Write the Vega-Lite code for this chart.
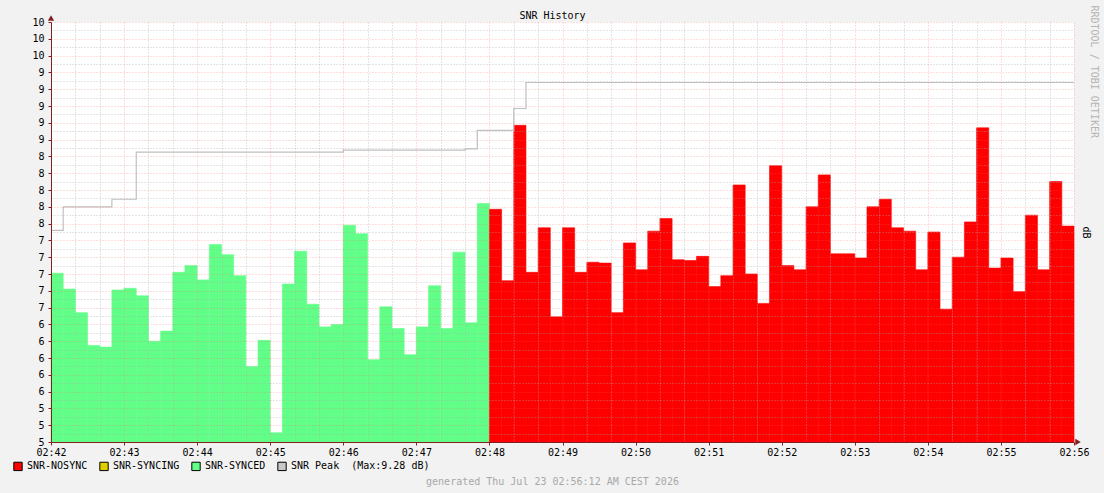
{
  "$schema": "https://vega.github.io/schema/vega-lite/v6.json",
  "width": 1023,
  "height": 420,
  "autosize": {"type": "none"},
  "padding": {"left": 51, "top": 22, "right": 30, "bottom": 51},
  "background": "#f2f2f2",
  "config": {"view": {"fill": "white", "stroke": null}, "font": "DejaVu Sans Mono"},
  "title": {"text": "SNR History", "anchor": "middle", "frame": "group", "dx": -10, "offset": -16, "font": "DejaVu Sans Mono", "fontSize": 10, "fontWeight": "normal", "color": "#000000"},
  "datasets": {
    "bars": [
      {"t": "2026-07-23T02:42:00Z", "e": "2026-07-23T02:42:10Z", "v": 7.01, "s": "SNR-SYNCED"},
      {"t": "2026-07-23T02:42:10Z", "e": "2026-07-23T02:42:20Z", "v": 6.82, "s": "SNR-SYNCED"},
      {"t": "2026-07-23T02:42:20Z", "e": "2026-07-23T02:42:30Z", "v": 6.54, "s": "SNR-SYNCED"},
      {"t": "2026-07-23T02:42:30Z", "e": "2026-07-23T02:42:40Z", "v": 6.15, "s": "SNR-SYNCED"},
      {"t": "2026-07-23T02:42:40Z", "e": "2026-07-23T02:42:50Z", "v": 6.13, "s": "SNR-SYNCED"},
      {"t": "2026-07-23T02:42:50Z", "e": "2026-07-23T02:43:00Z", "v": 6.81, "s": "SNR-SYNCED"},
      {"t": "2026-07-23T02:43:00Z", "e": "2026-07-23T02:43:10Z", "v": 6.83, "s": "SNR-SYNCED"},
      {"t": "2026-07-23T02:43:10Z", "e": "2026-07-23T02:43:20Z", "v": 6.74, "s": "SNR-SYNCED"},
      {"t": "2026-07-23T02:43:20Z", "e": "2026-07-23T02:43:30Z", "v": 6.20, "s": "SNR-SYNCED"},
      {"t": "2026-07-23T02:43:30Z", "e": "2026-07-23T02:43:40Z", "v": 6.32, "s": "SNR-SYNCED"},
      {"t": "2026-07-23T02:43:40Z", "e": "2026-07-23T02:43:50Z", "v": 7.02, "s": "SNR-SYNCED"},
      {"t": "2026-07-23T02:43:50Z", "e": "2026-07-23T02:44:00Z", "v": 7.10, "s": "SNR-SYNCED"},
      {"t": "2026-07-23T02:44:00Z", "e": "2026-07-23T02:44:10Z", "v": 6.93, "s": "SNR-SYNCED"},
      {"t": "2026-07-23T02:44:10Z", "e": "2026-07-23T02:44:20Z", "v": 7.35, "s": "SNR-SYNCED"},
      {"t": "2026-07-23T02:44:20Z", "e": "2026-07-23T02:44:30Z", "v": 7.23, "s": "SNR-SYNCED"},
      {"t": "2026-07-23T02:44:30Z", "e": "2026-07-23T02:44:40Z", "v": 6.98, "s": "SNR-SYNCED"},
      {"t": "2026-07-23T02:44:40Z", "e": "2026-07-23T02:44:50Z", "v": 5.90, "s": "SNR-SYNCED"},
      {"t": "2026-07-23T02:44:50Z", "e": "2026-07-23T02:45:00Z", "v": 6.21, "s": "SNR-SYNCED"},
      {"t": "2026-07-23T02:45:00Z", "e": "2026-07-23T02:45:10Z", "v": 5.11, "s": "SNR-SYNCED"},
      {"t": "2026-07-23T02:45:10Z", "e": "2026-07-23T02:45:20Z", "v": 6.88, "s": "SNR-SYNCED"},
      {"t": "2026-07-23T02:45:20Z", "e": "2026-07-23T02:45:30Z", "v": 7.27, "s": "SNR-SYNCED"},
      {"t": "2026-07-23T02:45:30Z", "e": "2026-07-23T02:45:40Z", "v": 6.64, "s": "SNR-SYNCED"},
      {"t": "2026-07-23T02:45:40Z", "e": "2026-07-23T02:45:50Z", "v": 6.37, "s": "SNR-SYNCED"},
      {"t": "2026-07-23T02:45:50Z", "e": "2026-07-23T02:46:00Z", "v": 6.40, "s": "SNR-SYNCED"},
      {"t": "2026-07-23T02:46:00Z", "e": "2026-07-23T02:46:10Z", "v": 7.58, "s": "SNR-SYNCED"},
      {"t": "2026-07-23T02:46:10Z", "e": "2026-07-23T02:46:20Z", "v": 7.48, "s": "SNR-SYNCED"},
      {"t": "2026-07-23T02:46:20Z", "e": "2026-07-23T02:46:30Z", "v": 5.98, "s": "SNR-SYNCED"},
      {"t": "2026-07-23T02:46:30Z", "e": "2026-07-23T02:46:40Z", "v": 6.61, "s": "SNR-SYNCED"},
      {"t": "2026-07-23T02:46:40Z", "e": "2026-07-23T02:46:50Z", "v": 6.35, "s": "SNR-SYNCED"},
      {"t": "2026-07-23T02:46:50Z", "e": "2026-07-23T02:47:00Z", "v": 6.04, "s": "SNR-SYNCED"},
      {"t": "2026-07-23T02:47:00Z", "e": "2026-07-23T02:47:10Z", "v": 6.37, "s": "SNR-SYNCED"},
      {"t": "2026-07-23T02:47:10Z", "e": "2026-07-23T02:47:20Z", "v": 6.86, "s": "SNR-SYNCED"},
      {"t": "2026-07-23T02:47:20Z", "e": "2026-07-23T02:47:30Z", "v": 6.35, "s": "SNR-SYNCED"},
      {"t": "2026-07-23T02:47:30Z", "e": "2026-07-23T02:47:40Z", "v": 7.26, "s": "SNR-SYNCED"},
      {"t": "2026-07-23T02:47:40Z", "e": "2026-07-23T02:47:50Z", "v": 6.42, "s": "SNR-SYNCED"},
      {"t": "2026-07-23T02:47:50Z", "e": "2026-07-23T02:48:00Z", "v": 7.84, "s": "SNR-SYNCED"},
      {"t": "2026-07-23T02:48:00Z", "e": "2026-07-23T02:48:10Z", "v": 7.77, "s": "SNR-NOSYNC"},
      {"t": "2026-07-23T02:48:10Z", "e": "2026-07-23T02:48:20Z", "v": 6.92, "s": "SNR-NOSYNC"},
      {"t": "2026-07-23T02:48:20Z", "e": "2026-07-23T02:48:30Z", "v": 8.77, "s": "SNR-NOSYNC"},
      {"t": "2026-07-23T02:48:30Z", "e": "2026-07-23T02:48:40Z", "v": 7.02, "s": "SNR-NOSYNC"},
      {"t": "2026-07-23T02:48:40Z", "e": "2026-07-23T02:48:50Z", "v": 7.55, "s": "SNR-NOSYNC"},
      {"t": "2026-07-23T02:48:50Z", "e": "2026-07-23T02:49:00Z", "v": 6.49, "s": "SNR-NOSYNC"},
      {"t": "2026-07-23T02:49:00Z", "e": "2026-07-23T02:49:10Z", "v": 7.55, "s": "SNR-NOSYNC"},
      {"t": "2026-07-23T02:49:10Z", "e": "2026-07-23T02:49:20Z", "v": 7.02, "s": "SNR-NOSYNC"},
      {"t": "2026-07-23T02:49:20Z", "e": "2026-07-23T02:49:30Z", "v": 7.14, "s": "SNR-NOSYNC"},
      {"t": "2026-07-23T02:49:30Z", "e": "2026-07-23T02:49:40Z", "v": 7.13, "s": "SNR-NOSYNC"},
      {"t": "2026-07-23T02:49:40Z", "e": "2026-07-23T02:49:50Z", "v": 6.54, "s": "SNR-NOSYNC"},
      {"t": "2026-07-23T02:49:50Z", "e": "2026-07-23T02:50:00Z", "v": 7.37, "s": "SNR-NOSYNC"},
      {"t": "2026-07-23T02:50:00Z", "e": "2026-07-23T02:50:10Z", "v": 7.05, "s": "SNR-NOSYNC"},
      {"t": "2026-07-23T02:50:10Z", "e": "2026-07-23T02:50:20Z", "v": 7.51, "s": "SNR-NOSYNC"},
      {"t": "2026-07-23T02:50:20Z", "e": "2026-07-23T02:50:30Z", "v": 7.66, "s": "SNR-NOSYNC"},
      {"t": "2026-07-23T02:50:30Z", "e": "2026-07-23T02:50:40Z", "v": 7.17, "s": "SNR-NOSYNC"},
      {"t": "2026-07-23T02:50:40Z", "e": "2026-07-23T02:50:50Z", "v": 7.16, "s": "SNR-NOSYNC"},
      {"t": "2026-07-23T02:50:50Z", "e": "2026-07-23T02:51:00Z", "v": 7.21, "s": "SNR-NOSYNC"},
      {"t": "2026-07-23T02:51:00Z", "e": "2026-07-23T02:51:10Z", "v": 6.85, "s": "SNR-NOSYNC"},
      {"t": "2026-07-23T02:51:10Z", "e": "2026-07-23T02:51:20Z", "v": 6.98, "s": "SNR-NOSYNC"},
      {"t": "2026-07-23T02:51:20Z", "e": "2026-07-23T02:51:30Z", "v": 8.06, "s": "SNR-NOSYNC"},
      {"t": "2026-07-23T02:51:30Z", "e": "2026-07-23T02:51:40Z", "v": 7.00, "s": "SNR-NOSYNC"},
      {"t": "2026-07-23T02:51:40Z", "e": "2026-07-23T02:51:50Z", "v": 6.65, "s": "SNR-NOSYNC"},
      {"t": "2026-07-23T02:51:50Z", "e": "2026-07-23T02:52:00Z", "v": 8.29, "s": "SNR-NOSYNC"},
      {"t": "2026-07-23T02:52:00Z", "e": "2026-07-23T02:52:10Z", "v": 7.10, "s": "SNR-NOSYNC"},
      {"t": "2026-07-23T02:52:10Z", "e": "2026-07-23T02:52:20Z", "v": 7.05, "s": "SNR-NOSYNC"},
      {"t": "2026-07-23T02:52:20Z", "e": "2026-07-23T02:52:30Z", "v": 7.80, "s": "SNR-NOSYNC"},
      {"t": "2026-07-23T02:52:30Z", "e": "2026-07-23T02:52:40Z", "v": 8.18, "s": "SNR-NOSYNC"},
      {"t": "2026-07-23T02:52:40Z", "e": "2026-07-23T02:52:50Z", "v": 7.24, "s": "SNR-NOSYNC"},
      {"t": "2026-07-23T02:52:50Z", "e": "2026-07-23T02:53:00Z", "v": 7.24, "s": "SNR-NOSYNC"},
      {"t": "2026-07-23T02:53:00Z", "e": "2026-07-23T02:53:10Z", "v": 7.19, "s": "SNR-NOSYNC"},
      {"t": "2026-07-23T02:53:10Z", "e": "2026-07-23T02:53:20Z", "v": 7.80, "s": "SNR-NOSYNC"},
      {"t": "2026-07-23T02:53:20Z", "e": "2026-07-23T02:53:30Z", "v": 7.89, "s": "SNR-NOSYNC"},
      {"t": "2026-07-23T02:53:30Z", "e": "2026-07-23T02:53:40Z", "v": 7.55, "s": "SNR-NOSYNC"},
      {"t": "2026-07-23T02:53:40Z", "e": "2026-07-23T02:53:50Z", "v": 7.51, "s": "SNR-NOSYNC"},
      {"t": "2026-07-23T02:53:50Z", "e": "2026-07-23T02:54:00Z", "v": 7.05, "s": "SNR-NOSYNC"},
      {"t": "2026-07-23T02:54:00Z", "e": "2026-07-23T02:54:10Z", "v": 7.50, "s": "SNR-NOSYNC"},
      {"t": "2026-07-23T02:54:10Z", "e": "2026-07-23T02:54:20Z", "v": 6.58, "s": "SNR-NOSYNC"},
      {"t": "2026-07-23T02:54:20Z", "e": "2026-07-23T02:54:30Z", "v": 7.20, "s": "SNR-NOSYNC"},
      {"t": "2026-07-23T02:54:30Z", "e": "2026-07-23T02:54:40Z", "v": 7.62, "s": "SNR-NOSYNC"},
      {"t": "2026-07-23T02:54:40Z", "e": "2026-07-23T02:54:50Z", "v": 8.74, "s": "SNR-NOSYNC"},
      {"t": "2026-07-23T02:54:50Z", "e": "2026-07-23T02:55:00Z", "v": 7.07, "s": "SNR-NOSYNC"},
      {"t": "2026-07-23T02:55:00Z", "e": "2026-07-23T02:55:10Z", "v": 7.19, "s": "SNR-NOSYNC"},
      {"t": "2026-07-23T02:55:10Z", "e": "2026-07-23T02:55:20Z", "v": 6.79, "s": "SNR-NOSYNC"},
      {"t": "2026-07-23T02:55:20Z", "e": "2026-07-23T02:55:30Z", "v": 7.70, "s": "SNR-NOSYNC"},
      {"t": "2026-07-23T02:55:30Z", "e": "2026-07-23T02:55:40Z", "v": 7.05, "s": "SNR-NOSYNC"},
      {"t": "2026-07-23T02:55:40Z", "e": "2026-07-23T02:55:50Z", "v": 8.10, "s": "SNR-NOSYNC"},
      {"t": "2026-07-23T02:55:50Z", "e": "2026-07-23T02:56:00Z", "v": 7.57, "s": "SNR-NOSYNC"}
    ],
    "peak": [
      {"t": "2026-07-23T02:42:00Z", "p": 7.52},
      {"t": "2026-07-23T02:42:10Z", "p": 7.80},
      {"t": "2026-07-23T02:42:50Z", "p": 7.89},
      {"t": "2026-07-23T02:43:10Z", "p": 8.45},
      {"t": "2026-07-23T02:46:00Z", "p": 8.475},
      {"t": "2026-07-23T02:47:40Z", "p": 8.49},
      {"t": "2026-07-23T02:47:50Z", "p": 8.71},
      {"t": "2026-07-23T02:48:20Z", "p": 8.97},
      {"t": "2026-07-23T02:48:30Z", "p": 9.28},
      {"t": "2026-07-23T02:56:00Z", "p": 9.28}
    ]
  },
  "layer": [
    {
      "data": {"name": "bars"},
      "mark": {"type": "rect", "strokeWidth": 0.6},
      "encoding": {
        "x": {
          "field": "t", "type": "temporal",
          "scale": {"type": "utc", "nice": false, "domain": [
            {"utc": true, "year": 2026, "month": 7, "date": 23, "hours": 2, "minutes": 42},
            {"utc": true, "year": 2026, "month": 7, "date": 23, "hours": 2, "minutes": 56}]},
          "axis": {
            "orient": "bottom",
            "values": [
              {"utc": true, "year": 2026, "month": 7, "date": 23, "hours": 2, "minutes": 42},
              {"utc": true, "year": 2026, "month": 7, "date": 23, "hours": 2, "minutes": 43},
              {"utc": true, "year": 2026, "month": 7, "date": 23, "hours": 2, "minutes": 44},
              {"utc": true, "year": 2026, "month": 7, "date": 23, "hours": 2, "minutes": 45},
              {"utc": true, "year": 2026, "month": 7, "date": 23, "hours": 2, "minutes": 46},
              {"utc": true, "year": 2026, "month": 7, "date": 23, "hours": 2, "minutes": 47},
              {"utc": true, "year": 2026, "month": 7, "date": 23, "hours": 2, "minutes": 48},
              {"utc": true, "year": 2026, "month": 7, "date": 23, "hours": 2, "minutes": 49},
              {"utc": true, "year": 2026, "month": 7, "date": 23, "hours": 2, "minutes": 50},
              {"utc": true, "year": 2026, "month": 7, "date": 23, "hours": 2, "minutes": 51},
              {"utc": true, "year": 2026, "month": 7, "date": 23, "hours": 2, "minutes": 52},
              {"utc": true, "year": 2026, "month": 7, "date": 23, "hours": 2, "minutes": 53},
              {"utc": true, "year": 2026, "month": 7, "date": 23, "hours": 2, "minutes": 54},
              {"utc": true, "year": 2026, "month": 7, "date": 23, "hours": 2, "minutes": 55},
              {"utc": true, "year": 2026, "month": 7, "date": 23, "hours": 2, "minutes": 56}],
            "format": "%H:%M", "formatType": "utc",
            "labelFont": "DejaVu Sans Mono", "labelFontSize": 10, "labelColor": "#000000",
            "labelPadding": 2, "labelFlush": false, "labelOverlap": false,
            "tickSize": 3, "tickColor": "#802020", "domainColor": "#802020",
            "grid": true, "gridColor": "#ff6060", "gridOpacity": 0.42, "gridDash": [1, 2],
            "title": "generated Thu Jul 23 02:56:12 AM CEST 2026",
            "titleFont": "DejaVu Sans Mono", "titleFontSize": 10, "titleFontWeight": "normal",
            "titleColor": "#a8a8a8", "titleX": 501, "titleY": 39, "titleAlign": "center",
            "titleBaseline": "middle", "titleAnchor": null,
            "zindex": 1
          }
        },
        "x2": {"field": "e"},
        "y": {
          "field": "v", "type": "quantitative",
          "scale": {"domain": [5, 10], "nice": false, "zero": false},
          "axis": {
            "orient": "left",
            "values": [5, 5.2, 5.4, 5.6, 5.8, 6, 6.2, 6.4, 6.6, 6.8, 7, 7.2, 7.4, 7.6, 7.8, 8, 8.2, 8.4, 8.6, 8.8, 9, 9.2, 9.4, 9.6, 9.8, 10],
            "format": ".0f",
            "labelFont": "DejaVu Sans Mono", "labelFontSize": 10, "labelColor": "#000000",
            "labelPadding": 4, "labelFlush": false, "labelOverlap": false,
            "tickSize": 3, "tickColor": "#802020", "domainColor": "#802020",
            "grid": true, "gridColor": "#ff6060", "gridOpacity": 0.42, "gridDash": [1, 2],
            "title": null, "zindex": 1
          }
        },
        "y2": {"datum": 5},
        "color": {
          "field": "s", "type": "nominal",
          "scale": {"domain": ["SNR-NOSYNC", "SNR-SYNCING", "SNR-SYNCED", "SNR Peak"], "range": ["#ff0000", "#e0d000", "#62ff88", "#c8c8c8"]},
          "legend": {
            "orient": "none", "legendX": -38, "legendY": 439, "direction": "horizontal", "columns": 4,
            "title": null, "symbolType": "square", "symbolSize": 70, "symbolStrokeColor": "#000000",
            "symbolStrokeWidth": 1, "symbolOpacity": 1, "labelOffset": 4, "columnPadding": 9,
            "labelFont": "DejaVu Sans Mono", "labelFontSize": 10, "labelColor": "#000000", "labelLimit": 0,
            "labelExpr": "datum.label == 'SNR Peak' ? 'SNR Peak\u00a0\u00a0(Max:9.28 dB)' : datum.label",
            "encode": {"symbols": {"update": {"stroke": {"value": "#000000"}, "strokeWidth": {"value": 1}}}}
          }
        },
        "stroke": {
          "condition": {"test": "datum.s == 'SNR-NOSYNC'", "value": "#ff0000"},
          "value": "#62ff88"
        }
      }
    },
    {
      "data": {"name": "peak"},
      "mark": {"type": "line", "interpolate": "step-after", "color": "#c0c0c0", "strokeWidth": 1.2},
      "encoding": {
        "x": {
          "field": "t", "type": "temporal",
          "axis": {
            "orient": "bottom", "labels": false, "ticks": false, "domain": false, "title": null,
            "grid": true, "gridColor": "#a8a8a8", "gridOpacity": 0.6, "gridDash": [1, 2], "zindex": 1,
            "values": [
              {"utc": true, "year": 2026, "month": 7, "date": 23, "hours": 2, "minutes": 42, "seconds": 20},
              {"utc": true, "year": 2026, "month": 7, "date": 23, "hours": 2, "minutes": 42, "seconds": 40},
              {"utc": true, "year": 2026, "month": 7, "date": 23, "hours": 2, "minutes": 43, "seconds": 20},
              {"utc": true, "year": 2026, "month": 7, "date": 23, "hours": 2, "minutes": 43, "seconds": 40},
              {"utc": true, "year": 2026, "month": 7, "date": 23, "hours": 2, "minutes": 44, "seconds": 20},
              {"utc": true, "year": 2026, "month": 7, "date": 23, "hours": 2, "minutes": 44, "seconds": 40},
              {"utc": true, "year": 2026, "month": 7, "date": 23, "hours": 2, "minutes": 45, "seconds": 20},
              {"utc": true, "year": 2026, "month": 7, "date": 23, "hours": 2, "minutes": 45, "seconds": 40},
              {"utc": true, "year": 2026, "month": 7, "date": 23, "hours": 2, "minutes": 46, "seconds": 20},
              {"utc": true, "year": 2026, "month": 7, "date": 23, "hours": 2, "minutes": 46, "seconds": 40},
              {"utc": true, "year": 2026, "month": 7, "date": 23, "hours": 2, "minutes": 47, "seconds": 20},
              {"utc": true, "year": 2026, "month": 7, "date": 23, "hours": 2, "minutes": 47, "seconds": 40},
              {"utc": true, "year": 2026, "month": 7, "date": 23, "hours": 2, "minutes": 48, "seconds": 20},
              {"utc": true, "year": 2026, "month": 7, "date": 23, "hours": 2, "minutes": 48, "seconds": 40},
              {"utc": true, "year": 2026, "month": 7, "date": 23, "hours": 2, "minutes": 49, "seconds": 20},
              {"utc": true, "year": 2026, "month": 7, "date": 23, "hours": 2, "minutes": 49, "seconds": 40},
              {"utc": true, "year": 2026, "month": 7, "date": 23, "hours": 2, "minutes": 50, "seconds": 20},
              {"utc": true, "year": 2026, "month": 7, "date": 23, "hours": 2, "minutes": 50, "seconds": 40},
              {"utc": true, "year": 2026, "month": 7, "date": 23, "hours": 2, "minutes": 51, "seconds": 20},
              {"utc": true, "year": 2026, "month": 7, "date": 23, "hours": 2, "minutes": 51, "seconds": 40},
              {"utc": true, "year": 2026, "month": 7, "date": 23, "hours": 2, "minutes": 52, "seconds": 20},
              {"utc": true, "year": 2026, "month": 7, "date": 23, "hours": 2, "minutes": 52, "seconds": 40},
              {"utc": true, "year": 2026, "month": 7, "date": 23, "hours": 2, "minutes": 53, "seconds": 20},
              {"utc": true, "year": 2026, "month": 7, "date": 23, "hours": 2, "minutes": 53, "seconds": 40},
              {"utc": true, "year": 2026, "month": 7, "date": 23, "hours": 2, "minutes": 54, "seconds": 20},
              {"utc": true, "year": 2026, "month": 7, "date": 23, "hours": 2, "minutes": 54, "seconds": 40},
              {"utc": true, "year": 2026, "month": 7, "date": 23, "hours": 2, "minutes": 55, "seconds": 20},
              {"utc": true, "year": 2026, "month": 7, "date": 23, "hours": 2, "minutes": 55, "seconds": 40}]
          }
        },
        "y": {
          "field": "p", "type": "quantitative",
          "axis": {
            "orient": "left", "labels": false, "ticks": false, "domain": false, "title": null,
            "grid": true, "gridColor": "#a8a8a8", "gridOpacity": 0.6, "gridDash": [1, 2], "zindex": 1,
            "values": [5.1, 5.3, 5.5, 5.7, 5.9, 6.1, 6.3, 6.5, 6.7, 6.9, 7.1, 7.3, 7.5, 7.7, 7.9, 8.1, 8.3, 8.5, 8.7, 8.9, 9.1, 9.3, 9.5, 9.7, 9.9]
          }
        }
      }
    },
    {
      "data": {"values": [{}]},
      "mark": {"type": "point", "shape": "triangle-up", "filled": true, "color": "#802020", "opacity": 1, "size": 40, "yOffset": -4},
      "encoding": {
        "x": {"datum": {"utc": true, "year": 2026, "month": 7, "date": 23, "hours": 2, "minutes": 42}, "type": "temporal", "axis": null},
        "y": {"datum": 10, "type": "quantitative",
          "axis": {"orient": "right", "labels": false, "ticks": false, "domain": false, "grid": false,
            "title": "dB", "titleAngle": 90, "titleX": 11, "titleY": 210, "titleAlign": "center", "titleBaseline": "middle",
            "titleFont": "DejaVu Sans Mono", "titleFontSize": 10, "titleFontWeight": "normal", "titleColor": "#000000"}}
      }
    },
    {
      "data": {"values": [{}]},
      "mark": {"type": "point", "shape": "triangle-right", "filled": true, "color": "#802020", "opacity": 1, "size": 40, "xOffset": 4},
      "encoding": {
        "x": {"datum": {"utc": true, "year": 2026, "month": 7, "date": 23, "hours": 2, "minutes": 56}, "type": "temporal", "axis": null},
        "y": {"datum": 5, "type": "quantitative",
          "axis": {"orient": "right", "labels": false, "ticks": false, "domain": false, "grid": false,
            "title": "RRDTOOL / TOBI OETIKER", "titleAngle": 90, "titleX": 19, "titleY": -17, "titleAlign": "left", "titleBaseline": "middle",
            "titleFont": "DejaVu Sans Mono", "titleFontSize": 10, "titleFontWeight": "normal", "titleColor": "#b4b4b4"}}
      }
    }
  ],
  "resolve": {"axis": {"x": "independent", "y": "independent"}}
}
